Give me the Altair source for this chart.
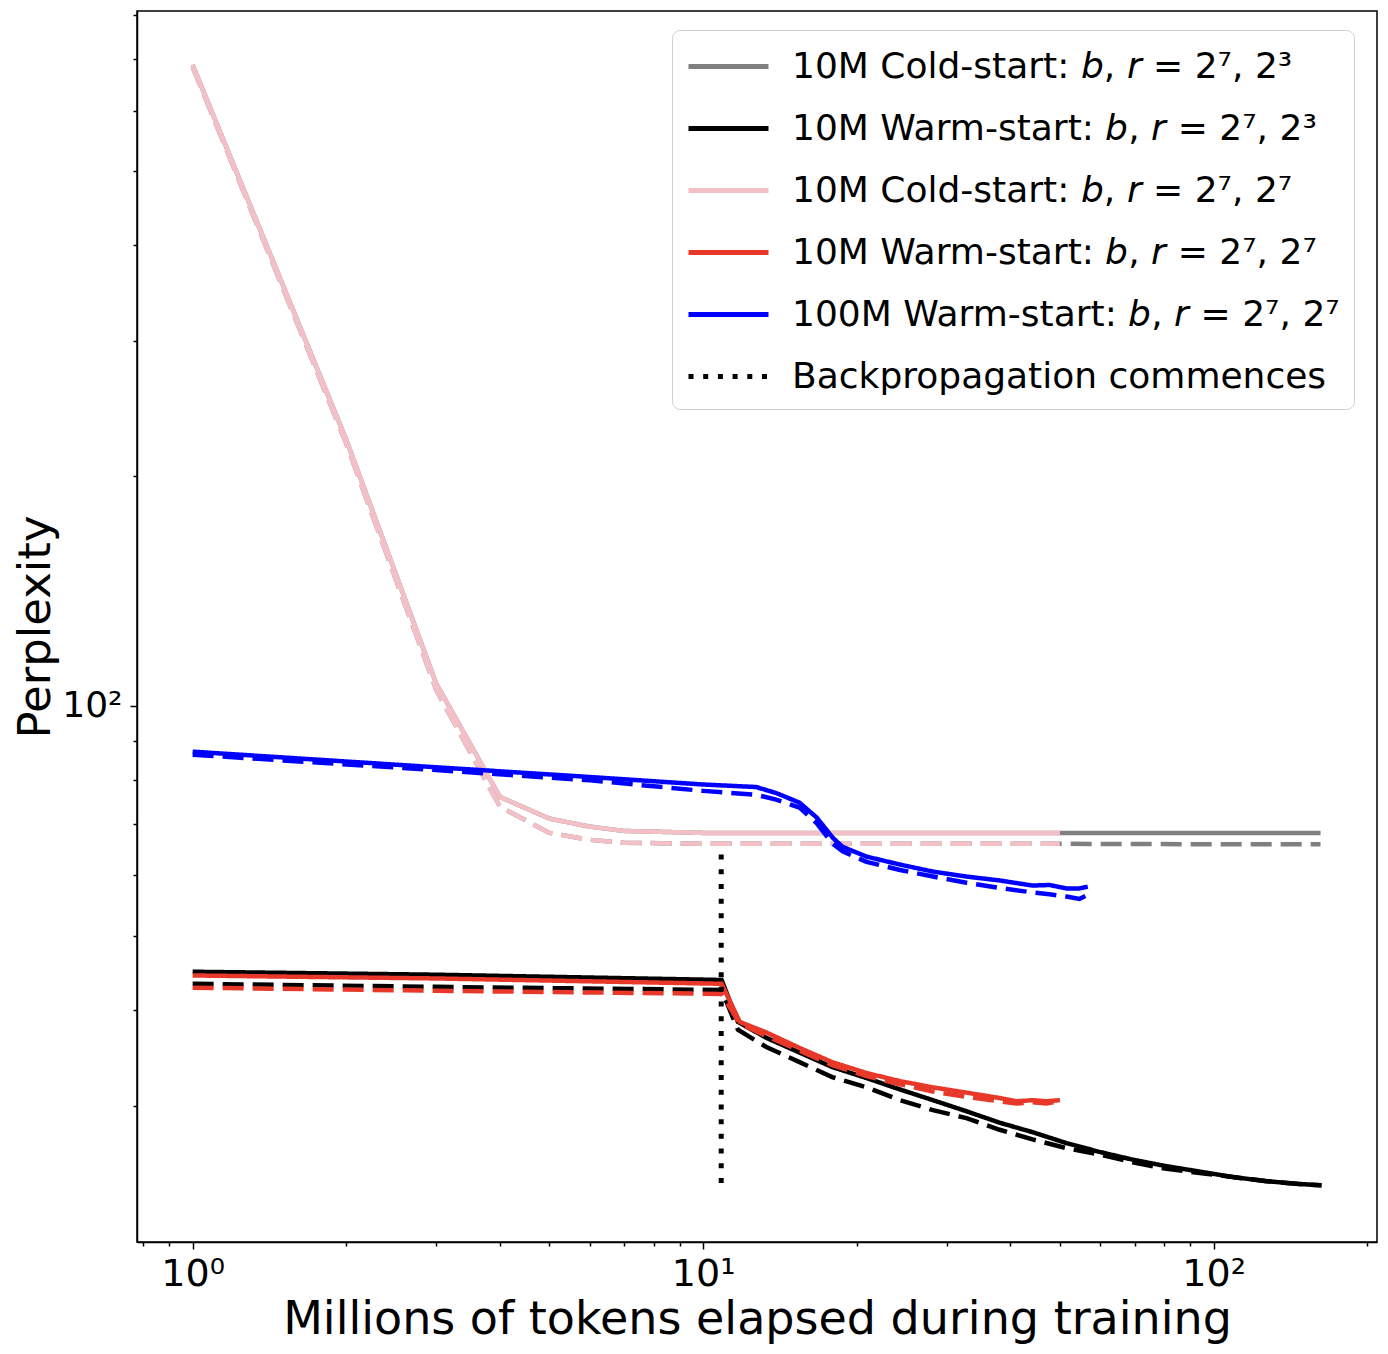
import altair as alt
import pandas as pd

# ---- series labels ----
S_GRAY = "10M Cold-start: 𝘣, 𝘳 = 2⁷, 2³"
S_BLACK = "10M Warm-start: 𝘣, 𝘳 = 2⁷, 2³"
S_PINK = "10M Cold-start: 𝘣, 𝘳 = 2⁷, 2⁷"
S_RED = "10M Warm-start: 𝘣, 𝘳 = 2⁷, 2⁷"
S_BLUE = "100M Warm-start: 𝘣, 𝘳 = 2⁷, 2⁷"
S_BP = "Backpropagation commences"

# ---- data (millions of tokens, perplexity) ----
gray_x = [1, 2, 3, 4, 5, 6, 7, 10, 20, 50, 100, 162]
gray_solid = [688.5, 222.7, 106.9, 76.0, 71.2, 69.5, 68.6, 68.2, 68.2, 68.2, 68.2, 68.2]
gray_dashed = [684.5, 220.1, 104.9, 73.8, 68.2, 66.8, 66.2, 66.0, 66.0, 66.0, 65.9, 65.9]

pink_x = [1, 2, 3, 4, 5, 6, 7, 10, 20, 50]
pink_solid = [688.5, 222.7, 106.9, 76.0, 71.2, 69.5, 68.6, 68.2, 68.2, 68.2]
pink_dashed = [684.5, 220.1, 104.9, 73.8, 68.2, 66.8, 66.2, 66.0, 66.0, 66.0]

black_x = [1, 3, 10.87, 11.7, 13.3, 15.45, 17.9, 20.9, 24.3, 28.2, 32.8, 38.1,
           44.2, 51.5, 59.8, 69.4, 80.9, 93.9, 109, 127, 147, 162.7]
black_solid = [44.9, 44.5, 43.8, 38.6, 36.8, 35.2, 33.7, 32.6, 31.5, 30.5, 29.5, 28.5,
               27.7, 26.8, 26.1, 25.5, 25.0, 24.6, 24.2, 23.9, 23.7, 23.6]
black_dashed = [43.3, 42.9, 42.5, 37.7, 35.8, 34.2, 32.7, 31.7, 30.5, 29.6, 28.9, 27.9,
                27.1, 26.4, 25.9, 25.3, 24.8, 24.5, 24.2, 23.9, 23.7, 23.6]

red_x = [1, 3, 10.87, 11.8, 13.3, 15.45, 17.9, 20.9, 24.3, 28.2, 32.8, 38.1, 41.1, 44.2, 47.0, 50.0]
red_solid = [44.4, 44.0, 43.3, 38.6, 37.4, 35.7, 34.2, 33.1, 32.3, 31.7, 31.2, 30.7, 30.4, 30.5, 30.4, 30.5]
red_dashed = [42.8, 42.4, 42.0, 38.4, 37.0, 35.4, 33.9, 32.8, 32.0, 31.3, 30.8, 30.4, 30.2, 30.3, 30.2, 30.4]

blue_x = [1, 3, 6, 10, 12.7, 13.9, 15.45, 16.7, 17.95, 18.76, 20.9, 24.3, 28.2, 32.8, 38.1,
          44.2, 47.7, 51.5, 54.6, 56.7]
blue_solid = [87.1, 83.1, 80.7, 78.9, 78.3, 76.9, 74.7, 71.4, 67.2, 65.4, 63.5, 62.0, 60.7, 59.8, 59.1,
              58.2, 58.3, 57.7, 57.7, 58.0]
blue_dashed = [86.3, 82.4, 79.9, 77.4, 76.5, 75.4, 73.6, 70.2, 66.0, 64.5, 62.5, 61.0, 59.8, 58.7, 57.8,
               57.0, 56.7, 56.3, 55.9, 56.6]

bp_x = [10.85]
bp_top = [63.9]
bp_bottom = [23.7]

x_ticks = [0.8, 0.9, 1, 2, 3, 4, 5, 6, 7, 8, 9, 10, 20, 30, 40, 50, 60, 70, 80, 90, 100, 200]
y_ticks = [30, 40, 50, 60, 70, 80, 90, 100, 200, 300, 400, 500, 600, 700, 800]

domain = [S_GRAY, S_BLACK, S_PINK, S_RED, S_BLUE, S_BP]
colors = ["#808080", "#000000", "#f4c0c8", "#e8382a", "#0000ff", "#000000"]
dashes = [[1, 0], [1, 0], [1, 0], [1, 0], [1, 0], [5, 9.7]]

series = [
    (S_GRAY, gray_x, gray_solid, gray_dashed),
    (S_BLACK, black_x, black_solid, black_dashed),
    (S_PINK, pink_x, pink_solid, pink_dashed),
    (S_RED, red_x, red_solid, red_dashed),
    (S_BLUE, blue_x, blue_solid, blue_dashed),
]

xscale = alt.Scale(type="log", domain=[0.778, 209], nice=False)
yscale = alt.Scale(type="log", domain=[19.9, 810], nice=False)

FONT = "DejaVu Sans"

x_axis = alt.Axis(
    values=x_ticks,
    labelExpr="datum.value == 1 ? '10⁰' : datum.value == 10 ? '10¹' : datum.value == 100 ? '10²' : ''",
    tickSize={"condition": {"test": "datum.value == 1 || datum.value == 10 || datum.value == 100", "value": 7}, "value": 4},
    title="Millions of tokens elapsed during training",
    titleFontSize=46, titleFontWeight="normal", titlePadding=4,
    labelFontSize=38, labelPadding=6, labelOverlap=False, labelFlush=False,
    grid=False, domainColor="black", tickColor="black", labelColor="black", titleColor="black",
    domainWidth=1.5, tickWidth=1.5,
)
y_axis = alt.Axis(
    values=y_ticks,
    labelExpr="datum.value == 100 ? '10²' : ''",
    tickSize={"condition": {"test": "datum.value == 100", "value": 7}, "value": 4},
    title="Perplexity",
    titleFontSize=45, titleFontWeight="normal", titlePadding=3,
    labelFontSize=36, labelPadding=8, labelOverlap=False,
    grid=False, domainColor="black", tickColor="black", labelColor="black", titleColor="black",
    domainWidth=1.5, tickWidth=1.5,
)

legend = alt.Legend(
    title=None, orient="none", legendX=535, legendY=19,
    symbolType="M-2,0H2", symbolSize=1600, symbolStrokeWidth=5, symbolOffset=20,
    labelFontSize=36, labelFont=FONT, labelColor="black", labelOffset=41, labelLimit=1000,
    rowPadding=21, padding=14,
    fillColor="rgba(255,255,255,0.85)", strokeColor="#d0d0d0", cornerRadius=8,
)

color_enc = alt.Color("series:N", scale=alt.Scale(domain=domain, range=colors), legend=legend)
dash_enc = alt.StrokeDash("series:N", scale=alt.Scale(domain=domain, range=dashes), legend=legend)

xe = alt.X("x:Q", scale=xscale, axis=x_axis)
ye = alt.Y("y:Q", scale=yscale, axis=y_axis)

layers = []
for name, xs, ys_solid, ys_dashed in series:
    d_solid = pd.DataFrame({"x": xs, "y": ys_solid, "series": name})
    d_dash = pd.DataFrame({"x": xs, "y": ys_dashed, "series": name})
    layers.append(
        alt.Chart(d_solid).mark_line(strokeWidth=4.5, clip=True).encode(
            x=xe, y=ye, color=color_enc, strokeDash=dash_enc
        )
    )
    layers.append(
        alt.Chart(d_dash).mark_line(strokeWidth=4.5, clip=True, strokeDash=[21, 9]).encode(
            x=xe, y=ye, color=color_enc
        )
    )

bp_df = pd.DataFrame({"x": bp_x, "y": bp_top, "y2": bp_bottom, "series": S_BP})
layers.append(
    alt.Chart(bp_df).mark_rule(strokeWidth=5).encode(
        x=xe, y=ye, y2="y2:Q",
        color=color_enc, strokeDash=dash_enc
    )
)

chart = alt.layer(*layers).properties(
    width=1240, height=1231,
    autosize=alt.AutoSizeParams(type="none"),
    padding={"left": 129, "top": 3, "right": 3, "bottom": 104},
    background="white",
).configure(font=FONT).configure_view(stroke="black", strokeWidth=1.5)

chart.save("out.html", embed_options={"renderer": "svg", "actions": False})
